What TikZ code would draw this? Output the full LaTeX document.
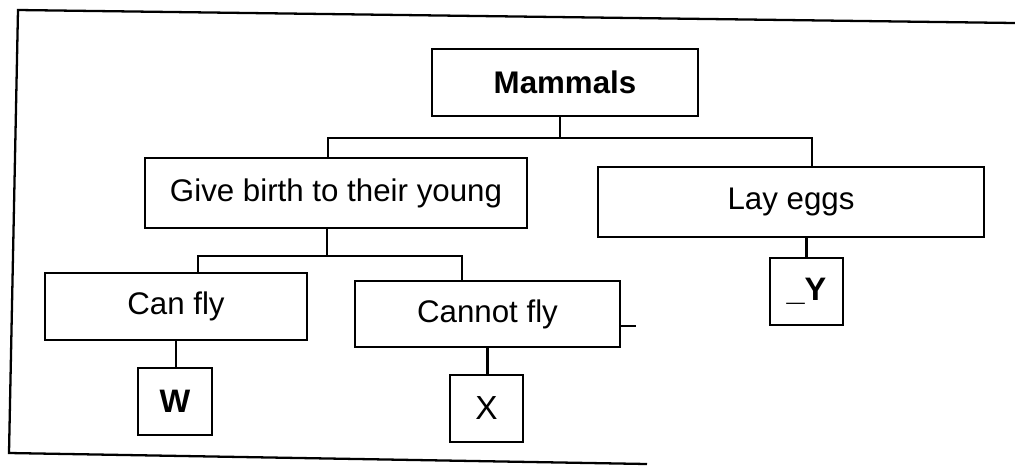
\documentclass[tikz,border=0pt]{standalone}
\usepackage{fontspec}
\setmainfont{Liberation Sans}
\usetikzlibrary{calc,positioning}

\begin{document}
\begin{tikzpicture}[x=0.02cm,y=-0.02cm,line width=1.3pt,
		box/.style={draw,inner sep=0pt,minimum height=1.34cm,font=\fontsize{17.8}{20}\selectfont},
		leaf/.style={box,minimum width=1.47cm}]
		\useasboundingbox (0,0) rectangle (1015,468);
		% outer frame (open on the right)
		\draw (1015,23) -- (18,10) -- (9,453) -- (647,464);
		% boxes
		\node(mammals) [box,minimum width=5.32cm,font=\fontsize{17.8}{20}\selectfont\bfseries] at (565,82.5) {Mammals};
		\node(birth) [box,minimum width=7.64cm,minimum height=1.4cm] at (336,193) {Give birth to their young};
		\node(eggs) [box,minimum width=7.72cm,minimum height=1.4cm] at (791,202) {Lay eggs};
		\node(canfly) [box,minimum width=5.24cm] at (176,306.5) {Can fly};
		\node(cannotfly) [box,minimum width=5.3cm,minimum height=1.32cm] at (487.5,314) {Cannot fly};
		\node(w) [leaf,font=\fontsize{18.5}{20}\selectfont\bfseries] at (175,401.5) {W};
		\node(x) [leaf,font=\fontsize{19}{20}\selectfont] at (486.5,408.5) {X};
		\node(y) [leaf,font=\fontsize{18.5}{20}\selectfont\bfseries] at (806.5,291.5) {\_Y};
		% connectors
		\draw ($(mammals.south)+(-5,0)$) -- ++(0,21) coordinate (topbus);
		\draw ($(birth.north)+(-8,0)$) |- (topbus) -| ($(eggs.north)+(21,0)$);
		\draw ($(birth.south)+(-9,0)$) -- ++(0,27) coordinate (midbus);
		\draw ($(canfly.north)+(22,0)$) |- (midbus) -| ($(cannotfly.north)+(-25.5,0)$);
		\draw (canfly.south) -- (w.north -| canfly.south);
		\draw (cannotfly.south) -- (x.north -| cannotfly.south);
		\draw (y.north) -- (y.north |- eggs.south);
		\draw ($(cannotfly.east)+(0,12)$) -- ++(15,0);
	\end{tikzpicture}
\end{document}
